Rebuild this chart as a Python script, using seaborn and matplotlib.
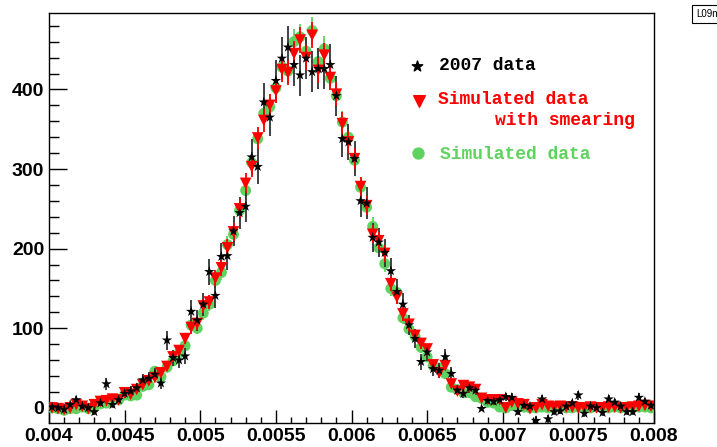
import numpy as np
import pandas as pd
import matplotlib
matplotlib.use("Agg")
import matplotlib.pyplot as plt
import seaborn as sns
from matplotlib.ticker import FixedLocator, FixedFormatter, MultipleLocator

# ---------------- data ----------------
bin_lo = 0.004
bin_width = 0.00004
n_bins = 100

data_2007 = [1, 0, -2, 4, 10, 2, 0, -5, 6, 30,
             4, 10, 18, 21, 25, 35, 37, 42, 31, 85,
             63, 60, 65, 121, 110, 130, 171, 141, 190, 191,
             222, 245, 253, 315, 303, 384, 365, 411, 439, 453,
             431, 418, 439, 422, 426, 426, 431, 392, 338, 334,
             313, 260, 257, 214, 208, 195, 172, 146, 130, 104,
             87, 58, 70, 49, 47, 64, 43, 22, 18, 25,
             22, -1, 9, 8, 10, 14, 13, -5, 3, 2,
             -16, 11, -14, -5, -4, 2, 6, 16, -7, 2,
             0, -6, 11, 7, 2, -5, -5, 13, 8, 3]

sim_smear = [0, -1, -2, 0, 4, 2, -1, 4, 8, 9,
             11, 10, 19, 17, 23, 29, 34, 38, 44, 52,
             64, 72, 87, 101, 106, 128, 133, 163, 176, 201,
             221, 250, 282, 303, 339, 361, 380, 398, 425, 421,
             445, 462, 440, 468, 424, 443, 415, 394, 357, 334,
             313, 278, 254, 218, 210, 194, 156, 139, 118, 105,
             91, 81, 74, 54, 44, 53, 30, 21, 28, 26,
             23, 12, 10, 10, 10, 0, 7, 5, 4, -1,
             0, 4, 2, 1, 2, 1, 1, 0, 0, 1,
             0, 0, 1, 1, 0, 0, 1, 2, 3, 2]

sim_data = [0, -1, -3, -1, -1, 1, -1, 2, 5, 6,
            9, 10, 16, 15, 16, 27, 29, 46, 39, 51,
            59, 69, 78, 104, 100, 119, 130, 160, 170, 205,
            218, 248, 273, 308, 338, 370, 378, 402, 428, 423,
            460, 466, 448, 474, 435, 451, 414, 392, 359, 340,
            311, 277, 252, 228, 201, 181, 150, 145, 113, 99,
            90, 76, 64, 53, 50, 43, 26, 23, 19, 19,
            14, 12, 7, 6, 1, 0, 3, 2, 1, 0,
            0, 1, 0, 0, 1, 0, 0, 1, 0, 0,
            1, 0, 0, 1, 0, 1, 0, 1, 1, 0]

x_tick_values = [0.004, 0.0045, 0.005, 0.0055, 0.006, 0.0065, 0.007, 0.0075, 0.008]
x_tick_labels = ["0.004", "0.0045", "0.005", "0.0055", "0.006", "0.0065", "0.007", "0.0075", "0.008"]
y_tick_values = [0, 100, 200, 300, 400]
y_tick_labels = ["0", "100", "200", "300", "400"]

legend_labels = ["2007 data", "Simulated data", "with smearing", "Simulated data"]

# ---------------- frame ----------------
centers = bin_lo + bin_width * (np.arange(n_bins) + 0.5)
df = pd.DataFrame({
    "x": centers,
    "data": data_2007,
    "smear": sim_smear,
    "sim": sim_data,
})
# Poisson-like uncertainties
df["err_data"] = 1.25 * np.sqrt(np.abs(df["data"]) + 4)
df["err_smear"] = 0.75 * np.sqrt(np.abs(df["smear"]) + 4)
df["err_sim"] = 0.75 * np.sqrt(np.abs(df["sim"]) + 4)

sns.set_theme(style="ticks")
plt.rcParams["font.family"] = ["Liberation Sans", "DejaVu Sans"]
plt.rcParams["text.color"] = "black"
plt.rcParams["xtick.color"] = "black"
plt.rcParams["ytick.color"] = "black"
plt.rcParams["xtick.labelcolor"] = "black"
plt.rcParams["ytick.labelcolor"] = "black"

W, H = 717, 447
fig = plt.figure(figsize=(W / 100, H / 100), dpi=100)
ax = fig.add_axes([49 / W, 1 - 423 / H, (654 - 49) / W, (423 - 13) / H])

GREEN = "#5fd35f"
RED = "#ff0000"

# green simulated
ax.errorbar(df["x"], df["sim"], yerr=df["err_sim"], fmt="none",
            ecolor=GREEN, elinewidth=1.3, zorder=2)
sns.scatterplot(data=df, x="x", y="sim", marker="o", s=62, color=GREEN,
                edgecolor="none", linewidth=0, ax=ax, zorder=3)
# black data
ax.errorbar(df["x"], df["data"], yerr=df["err_data"], fmt="none",
            ecolor="#333333", elinewidth=1.3, zorder=4)
# red smeared
ax.errorbar(df["x"], df["smear"], yerr=df["err_smear"], fmt="none",
            ecolor=RED, elinewidth=1.3, zorder=5)
sns.scatterplot(data=df, x="x", y="smear", marker="v", s=70, color=RED,
                edgecolor="none", linewidth=0, ax=ax, zorder=6)
sns.scatterplot(data=df, x="x", y="data", marker="*", s=62, color="black",
                edgecolor="none", linewidth=0, ax=ax, zorder=7)

ax.set_xlim(0.004, 0.008)
ax.set_ylim(-19, 496)
ax.set_xlabel("")
ax.set_ylabel("")

ax.xaxis.set_major_locator(FixedLocator(x_tick_values))
ax.xaxis.set_major_formatter(FixedFormatter(x_tick_labels))
ax.xaxis.set_minor_locator(MultipleLocator(0.0001))
ax.yaxis.set_major_locator(FixedLocator(y_tick_values))
ax.yaxis.set_major_formatter(FixedFormatter(y_tick_labels))
ax.yaxis.set_minor_locator(MultipleLocator(20))

ax.tick_params(axis="both", which="both", direction="in", top=False, right=False,
               bottom=True, left=True, color="black", labelcolor="black")
ax.tick_params(axis="x", which="major", length=9.5, width=1.0, pad=3.5,
               labelsize=14)
ax.tick_params(axis="x", which="minor", length=4.5, width=1.0)
ax.tick_params(axis="y", which="major", length=13, width=1.0, pad=3.5,
               labelsize=14)
ax.tick_params(axis="y", which="minor", length=7, width=1.0)
for lab in ax.get_xticklabels() + ax.get_yticklabels():
    lab.set_fontweight("bold")
    lab.set_color("black")
for sp in ax.spines.values():
    sp.set_color("black")
    sp.set_linewidth(1.0)
    sp.set_visible(True)

# ---------------- legend (manual, ROOT-like) ----------------
mono = ["Liberation Mono", "DejaVu Sans Mono"]
ax.scatter([0.608], [0.871], marker="*", s=62, color="black", transform=ax.transAxes,
           clip_on=False, zorder=10)
ax.text(0.645, 0.873, legend_labels[0], transform=ax.transAxes, color="black",
        family=mono, fontweight="bold", fontsize=13, va="center", ha="left")
ax.scatter([0.612], [0.785], marker="v", s=70, color=RED, transform=ax.transAxes,
           clip_on=False, zorder=10)
ax.text(0.643, 0.788, legend_labels[1], transform=ax.transAxes, color=RED,
        family=mono, fontweight="bold", fontsize=13, va="center", ha="left")
ax.text(0.737, 0.737, legend_labels[2], transform=ax.transAxes, color=RED,
        family=mono, fontweight="bold", fontsize=13, va="center", ha="left")
ax.scatter([0.610], [0.659], marker="o", s=62, color=GREEN, transform=ax.transAxes,
           clip_on=False, zorder=10)
ax.text(0.646, 0.654, legend_labels[3], transform=ax.transAxes, color=GREEN,
        family=mono, fontweight="bold", fontsize=13, va="center", ha="left")

# small canvas label box (top-right)
fig.text(696 / W, 1 - 14 / H, "L09n", fontsize=7, va="center", ha="left",
         family=["Liberation Sans", "DejaVu Sans"],
         bbox=dict(boxstyle="square,pad=0.45", facecolor="white", edgecolor="black",
                   linewidth=0.8))

fig.savefig("out.png", dpi=100, facecolor="white")
